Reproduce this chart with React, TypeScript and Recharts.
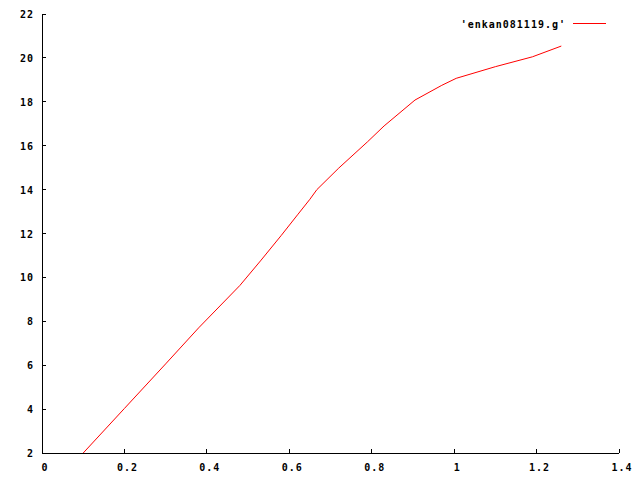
import React from 'react';
import { LineChart, Line, XAxis, YAxis } from 'recharts';

const seriesName = "'enkan081119.g'";
const xValues = [0.1, 0.2, 0.3, 0.38, 0.48, 0.53, 0.58, 0.62, 0.65, 0.667, 0.72, 0.79, 0.83, 0.905, 0.97, 1.005, 1.1, 1.19, 1.26];
const yValues = [2, 4.03, 6.06, 7.7, 9.63, 10.75, 11.9, 12.85, 13.56, 14.0, 14.98, 16.18, 16.9, 18.08, 18.75, 19.07, 19.6, 20.05, 20.54];
const xTicks = [0, 0.2, 0.4, 0.6, 0.8, 1, 1.2, 1.4];
const yTicks = [2, 4, 6, 8, 10, 12, 14, 16, 18, 20, 22];

const data = xValues.map((x, i) => ({ x, y: yValues[i] }));

const TICK_LEN = 4;
const font = {
  fontFamily: '"DejaVu Sans Mono", monospace',
  fontWeight: 'bold' as const,
  fontSize: 10,
  letterSpacing: 1,
  fill: '#000',
};
const crisp = { stroke: '#000', strokeWidth: 1, shapeRendering: 'crispEdges' as const };

// gnuplot style: ticks point inward, labels outside
const LeftTick = (props: any) => {
  const { x, y, payload } = props;
  const ax = x + 8;
  return (
    <g>
      <line x1={ax} x2={ax + TICK_LEN} y1={y} y2={y} {...crisp} />
      <text x={x} y={y} dy={4} textAnchor="end" {...font}>{payload.value}</text>
    </g>
  );
};

const BottomTick = (props: any) => {
  const { x, y, payload } = props;
  return (
    <g>
      <line x1={x} x2={x} y1={y} y2={y - TICK_LEN} {...crisp} />
      <text x={x} y={y + 18} dx={3} textAnchor="middle" {...font}>{payload.value}</text>
    </g>
  );
};

const TopTick = (props: any) => {
  const { x, y } = props;
  return <line x1={x} x2={x} y1={y} y2={y + TICK_LEN} {...crisp} />;
};

const RightTick = (props: any) => {
  const { x, y } = props;
  return <line x1={x} x2={x - TICK_LEN} y1={y} y2={y} {...crisp} />;
};

export default function App() {
  return (
    <div style={{ position: 'absolute', left: 0, top: 0, width: 640, height: 480, background: '#fff' }}>
      <LineChart width={640} height={480} data={data} margin={{ top: 14, right: 21, bottom: 0, left: 0 }}>
        <XAxis
          dataKey="x"
          type="number"
          domain={[0, 1.4]}
          ticks={xTicks}
          height={27}
          tickSize={0}
          tickMargin={0}
          tickLine={false}
          axisLine={crisp}
          tick={<BottomTick />}
          allowDataOverflow
        />
        <XAxis
          xAxisId="top"
          orientation="top"
          dataKey="x"
          type="number"
          domain={[0, 1.4]}
          ticks={xTicks}
          height={0}
          tickSize={0}
          tickMargin={0}
          tickLine={false}
          axisLine={crisp}
          tick={<TopTick />}
          allowDataOverflow
        />
        <YAxis
          type="number"
          domain={[2, 22]}
          ticks={yTicks}
          width={42}
          tickSize={0}
          tickMargin={8}
          tickLine={false}
          axisLine={crisp}
          tick={<LeftTick />}
          allowDataOverflow
        />
        <YAxis
          yAxisId="right"
          orientation="right"
          type="number"
          domain={[2, 22]}
          ticks={yTicks}
          width={0}
          tickSize={0}
          tickMargin={0}
          tickLine={false}
          axisLine={crisp}
          tick={<RightTick />}
          allowDataOverflow
        />
        <Line
          type="linear"
          dataKey="y"
          name={seriesName}
          stroke="#ff0000"
          strokeWidth={1}
          dot={false}
          isAnimationActive={false}
        />
      </LineChart>
      <svg width={640} height={480} style={{ position: 'absolute', left: 0, top: 0, pointerEvents: 'none' }}>
        <text x={566} y={27.5} textAnchor="end" {...font}>{seriesName}</text>
        <line x1={573} x2={606} y1={23.5} y2={23.5} stroke="#ff0000" strokeWidth={1} />
      </svg>
    </div>
  );
}
